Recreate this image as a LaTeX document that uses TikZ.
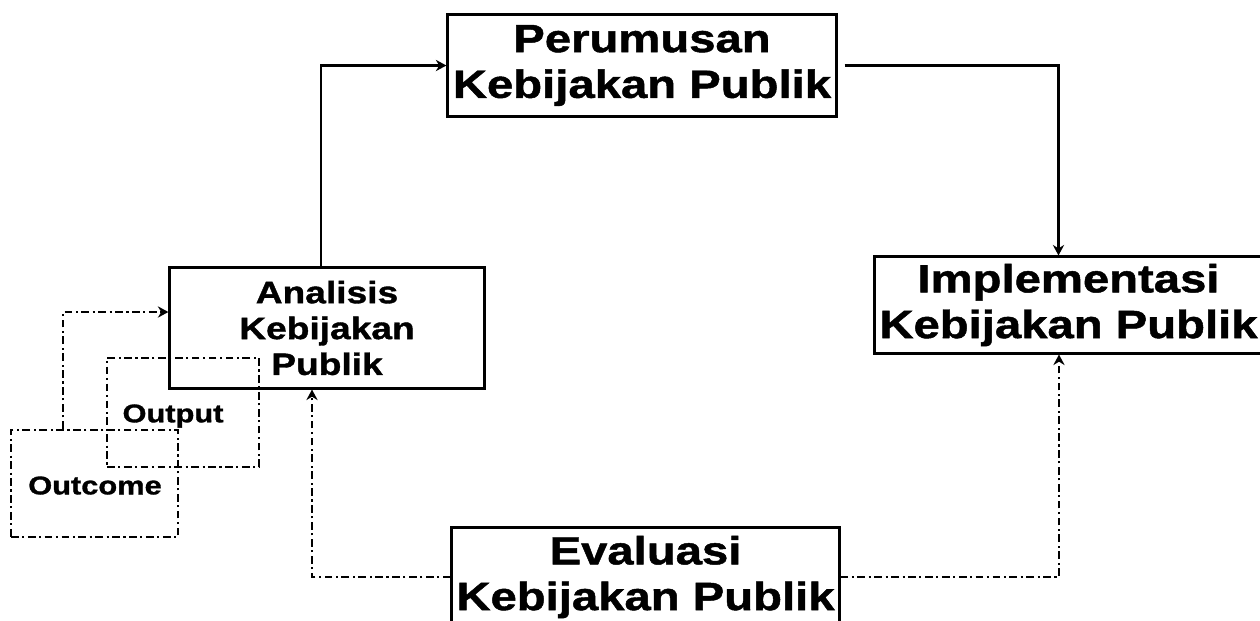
\documentclass[tikz,border=0pt]{standalone}
\usepackage{fontspec}
\setmainfont{Liberation Sans}[FakeStretch=1.2, BoldFeatures={FakeBold=1.2}]
\usetikzlibrary{arrows.meta,positioning}

\begin{document}
\begin{tikzpicture}[
    x=0.01cm, y=-0.01cm,
    >={Stealth[length=3pt,width=3.2pt]},
    line join=miter,
    bigbox/.style={draw, line width=0.85pt, align=center, inner sep=0pt,
        font=\fontsize{11.2}{13}\selectfont\bfseries},
    anabox/.style={draw, line width=0.85pt, align=center, inner sep=0pt,
        font=\fontsize{8.8}{10.2}\selectfont\bfseries},
    dashdot/.style={line width=0.8pt, dash pattern=on 2.2pt off 1pt on 0.6pt off 1pt},
    dbox/.style={draw, dashdot, inner sep=0pt},
    smalltxt/.style={font=\fontsize{7.3}{8.5}\selectfont\bfseries, inner sep=0pt},
    conn/.style={->, line width=0.85pt},
    dconn/.style={->, dashdot}
]

% --- Page ---
\useasboundingbox (0,0) rectangle (1260,620);
\clip (0,0) rectangle (1260,620);

% --- Main boxes ---
\node[bigbox, minimum width=3.88cm, minimum height=1.01cm] (perum) at (642,65.5)
    {Perumusan\\Kebijakan Publik};
\node[bigbox, minimum width=3.87cm, minimum height=0.96cm] (impl) at (1068.5,305)
    {Implementasi\\Kebijakan Publik};
\node[bigbox, minimum width=3.87cm, minimum height=0.98cm] (eval) at (645.5,577)
    {Evaluasi\\Kebijakan Publik};
\node[anabox, minimum width=3.14cm, minimum height=1.20cm] (anal) at (327,328)
    {Analisis\\Kebijakan\\Publik};

% --- Output / Outcome (dash-dot boxes) ---
\node[dbox, minimum width=1.52cm, minimum height=1.09cm] (outp) at (183,412.5) {};
\node[dbox, minimum width=1.67cm, minimum height=1.07cm] (outc) at (94.5,483.5) {};
\node[smalltxt] (outptxt) at (173,416) {Output};
\node[smalltxt] (outctxt) at (95,485.5) {Outcome};

% --- Solid connectors ---
\draw[conn] ([xshift=-0.06cm]anal.north) |- (perum.west);
\draw[conn, shorten <=0.07cm] (perum.east) -| ([xshift=-0.1cm]impl.north);

% --- Dash-dot connectors ---
\draw[dconn] (eval.west) -| ([xshift=-0.15cm]anal.south);
\draw[dconn] (eval.east) -| ([xshift=-0.095cm]impl.south);
\draw[dconn] ([xshift=-0.315cm]outc.north) |- ([yshift=0.16cm]anal.west);

\end{tikzpicture}
\end{document}
